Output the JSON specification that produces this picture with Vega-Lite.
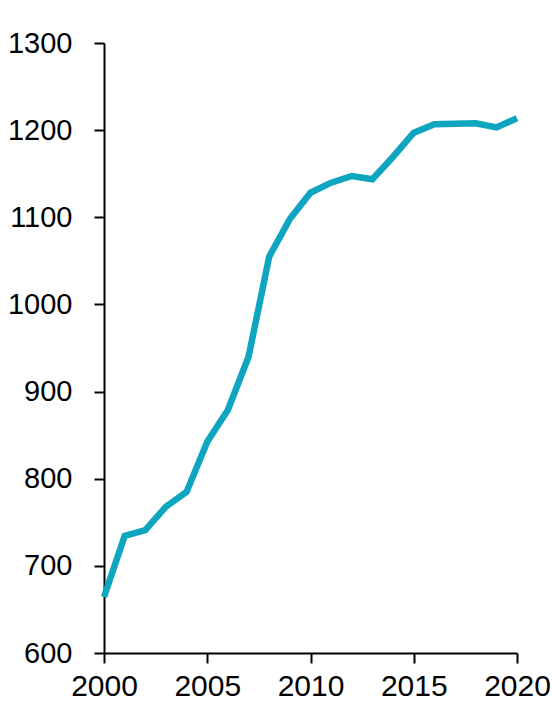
{
  "$schema": "https://vega.github.io/schema/vega-lite/v6.json",
  "width": 413,
  "height": 610,
  "autosize": {"type": "none"},
  "padding": {"left": 104, "top": 43, "right": 35, "bottom": 54},
  "background": "white",
  "config": {"view": {"stroke": null}},
  "data": {
    "values": [
      {"year": 2000, "value": 664.3},
      {"year": 2001, "value": 734.3},
      {"year": 2002, "value": 741.1},
      {"year": 2003, "value": 767.9},
      {"year": 2004, "value": 784.8},
      {"year": 2005, "value": 842.5},
      {"year": 2006, "value": 878.9},
      {"year": 2007, "value": 940.0},
      {"year": 2008, "value": 1054.8},
      {"year": 2009, "value": 1098.0},
      {"year": 2010, "value": 1128.2},
      {"year": 2011, "value": 1139.7},
      {"year": 2012, "value": 1147.4},
      {"year": 2013, "value": 1143.6},
      {"year": 2014, "value": 1169.5},
      {"year": 2015, "value": 1197.1},
      {"year": 2016, "value": 1206.7},
      {"year": 2017, "value": 1207.4},
      {"year": 2018, "value": 1207.8},
      {"year": 2019, "value": 1203.2},
      {"year": 2020, "value": 1213.6}
    ]
  },
  "mark": {"type": "line", "color": "#0EA5C1", "strokeWidth": 6.5, "strokeJoin": "miter"},
  "encoding": {
    "x": {
      "field": "year",
      "type": "quantitative",
      "scale": {"domain": [2000, 2020], "nice": false, "zero": false},
      "axis": {
        "title": null,
        "values": [2000, 2005, 2010, 2015, 2020],
        "format": "d",
        "grid": false,
        "domainColor": "black",
        "domainWidth": 2,
        "tickColor": "black",
        "tickWidth": 2,
        "tickSize": 10,
        "labelFont": "Liberation Sans",
        "labelFontSize": 30,
        "labelColor": "black",
        "labelPadding": 8,
        "labelFlush": false,
        "labelOverlap": false
      }
    },
    "y": {
      "field": "value",
      "type": "quantitative",
      "scale": {"domain": [600, 1300], "nice": false, "zero": false},
      "axis": {
        "title": null,
        "values": [600, 700, 800, 900, 1000, 1100, 1200, 1300],
        "format": "d",
        "grid": false,
        "domainColor": "black",
        "domainWidth": 2,
        "tickColor": "black",
        "tickWidth": 2,
        "tickSize": 10,
        "labelFont": "Liberation Sans",
        "labelFontSize": 29,
        "labelColor": "black",
        "labelPadding": 22,
        "labelFlush": false,
        "labelOverlap": false
      }
    }
  }
}
